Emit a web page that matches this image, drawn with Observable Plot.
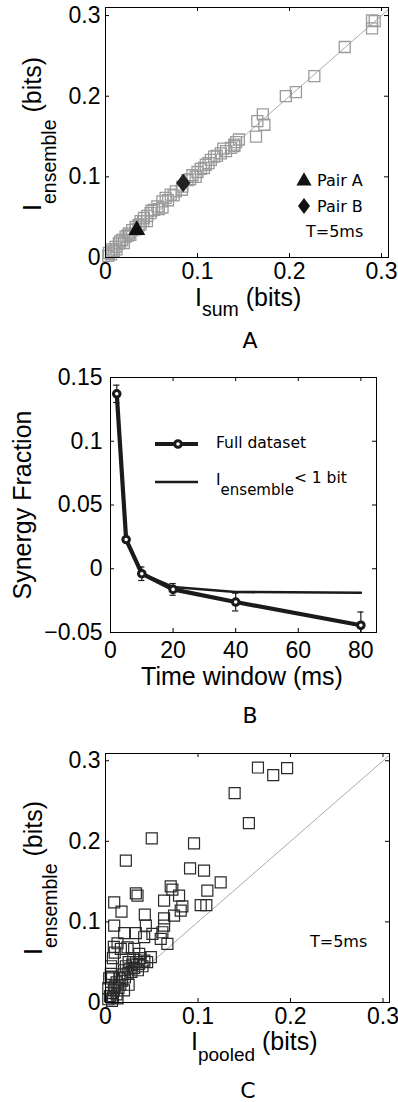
<!DOCTYPE html>
<html><head><meta charset="utf-8">
<script src="https://cdn.jsdelivr.net/npm/d3@7"></script>
<script src="https://cdn.jsdelivr.net/npm/@observablehq/plot@0.6"></script>
<style>
body{margin:0;background:#fff}
#chart{width:398px;height:1102px;overflow:hidden;background:#fff}
#chart svg{display:block}
</style>
</head><body><div id="chart"></div>
<script>
// ---------- Panel A : I_ensemble vs I_sum (T=5ms) ----------
const A_isum = [0.2897,0.2897,0.2926,0.260,0.227,0.207,0.196,0.171,0.165,0.1727,0.1636,0.145,0.140,0.1364,0.131,0.1254,0.118,0.1145,0.109,0.1036,0.100,0.0945,0.0891,0.0836,0.0764,0.0709,0.0654,0.0618,0.0564,0.0527,0.049,0.0454,0.0418,0.0382,0.0327,0.029,0.0254,0.0218,0.0182,0.0145,0.0109,0.0073,0.0036,0.128,0.112,0.098,0.062,0.068,0.050,0.045,0.036,0.027,0.020,0.012,0.006,0.003,0.016,0.024,0.038,0.058,0.074,0.083,0.092,0.107,0.121,0.142,0.140,0.041,0.033,0.009];
const A_iens = [0.294,0.284,0.293,0.261,0.225,0.205,0.200,0.1775,0.169,0.1646,0.150,0.1463,0.140,0.136,0.132,0.129,0.125,0.121,0.115,0.110,0.106,0.102,0.096,0.088,0.082,0.078,0.074,0.0696,0.0633,0.059,0.055,0.0517,0.049,0.045,0.038,0.034,0.030,0.026,0.0217,0.0175,0.0133,0.010,0.0058,0.135,0.117,0.100,0.062,0.071,0.058,0.045,0.040,0.028,0.018,0.010,0.004,0.002,0.020,0.027,0.041,0.060,0.077,0.084,0.097,0.111,0.126,0.143,0.138,0.045,0.035,0.008];
const pairA = {isum: 0.034, iens: 0.034};
const pairB = {isum: 0.0845, iens: 0.0925};

// ---------- Panel B : synergy fraction vs time window ----------
const B_T = [2, 5, 10, 20, 40, 80];
const B_full = [0.1372, 0.0229, -0.0039, -0.0162, -0.0261, -0.0443];
const B_err = [0.0068, 0.0020, 0.0053, 0.0046, 0.0070, 0.0104];
const B_small = [0.1372, 0.0229, -0.0039, -0.0143, -0.0182, -0.0188];

// ---------- Panel C : I_ensemble vs I_pooled (T=5ms) ----------
const C_ipooled = [0.1648,0.1813,0.1963,0.1396,0.155,0.0500,0.0957,0.0220,0.0914,0.1065,0.1245,0.1101,0.0705,0.0723,0.0328,0.0346,0.0633,0.0795,0.0831,0.0813,0.1029,0.109,0.0094,0.0173,0.0425,0.0633,0.0741,0.0094,0.0202,0.0328,0.0436,0.0633,0.0615,0.0507,0.0418,0.0597,0.0669,0.0130,0.0166,0.0238,0.031,0.0364,0.049,0.0058,
  0.003,0.005,0.006,0.008,0.009,0.010,0.012,0.012,0.014,0.015,0.016,0.018,0.018,0.020,0.021,0.022,0.024,0.025,0.026,0.028,0.029,0.030,0.031,0.033,0.035,0.036,0.038,0.040,0.042,0.045,0.004,0.006,0.008,0.010,0.003,0.013,0.007,0.020,0.025,0.009,0.007];
const C_iens = [0.2916,0.2821,0.2908,0.2598,0.2226,0.2036,0.1975,0.176,0.1665,0.1637,0.149,0.1388,0.1442,0.140,0.1355,0.1326,0.1264,0.1326,0.1194,0.114,0.1209,0.1209,0.1243,0.1128,0.109,0.1045,0.1078,0.0954,0.086,0.086,0.0954,0.0954,0.0872,0.0851,0.081,0.0789,0.0727,0.0735,0.0665,0.0685,0.0665,0.0603,0.0562,0.0356,
  0.004,0.008,0.012,0.006,0.015,0.020,0.010,0.025,0.018,0.030,0.022,0.035,0.027,0.040,0.031,0.045,0.036,0.050,0.042,0.038,0.047,0.055,0.043,0.050,0.040,0.048,0.055,0.045,0.052,0.050,0.030,0.045,0.055,0.062,0.018,0.005,0.002,0.015,0.022,0.069,0.032];

// ---------- tick values ----------
const ticksBits = [0, 0.1, 0.2, 0.3];
const ticksB_x = [0, 20, 40, 60, 80];
const ticksB_y = [-0.05, 0, 0.05, 0.1, 0.15];

// ---------- helpers ----------
const W = 398;
const TICK_FONT = 23;
const LABEL_FONT = 25;
const SANS = "Liberation Sans, Arial, Helvetica, sans-serif";
const LEG = "DejaVu Sans, Verdana, sans-serif";
const tickFmt = d => d === 0 ? "0" : (d < 0 ? "\u2212" + String(-d) : String(d));
const plotStyle = {fontFamily: SANS, fontSize: TICK_FONT + "px", color: "black", background: "white", overflow: "visible"};

// MATLAB-like diamond (wider than d3's)
const wideDiamond = {
  draw(ctx, size) {
    const ry = Math.sqrt(size / 1.5), rx = ry * 0.75;
    ctx.moveTo(0, -ry); ctx.lineTo(rx, 0); ctx.lineTo(0, ry); ctx.lineTo(-rx, 0); ctx.closePath();
  }
};

function innerTicks(xt, yt, fw, fh, len = 4) {
  return [
    Plot.tickX(xt, {x: d => d, insetTop: fh - len, stroke: "black"}),
    Plot.tickX(xt, {x: d => d, insetBottom: fh - len, stroke: "black"}),
    Plot.tickY(yt, {y: d => d, insetRight: fw - len, stroke: "black"}),
    Plot.tickY(yt, {y: d => d, insetLeft: fw - len, stroke: "black"})
  ];
}
function axes(xt, yt, padX, padY) {
  return [
    Plot.frame({stroke: "black", strokeWidth: 1}),
    Plot.axisX({ticks: xt, tickSize: 0, tickPadding: padX, tickFormat: tickFmt, label: null, fontSize: TICK_FONT}),
    Plot.axisY({ticks: yt, tickSize: 0, tickPadding: padY, tickFormat: tickFmt, label: null, fontSize: TICK_FONT})
  ];
}
function rich(svg, x, y, {rotate = false, anchor = "start", family = SANS, size = LABEL_FONT}, parts) {
  const t = d3.select(svg).append("text")
    .attr("transform", rotate ? `translate(${x},${y}) rotate(-90)` : `translate(${x},${y})`)
    .attr("text-anchor", anchor).attr("font-family", family).attr("font-size", size)
    .attr("fill", "black").style("white-space", "pre");
  for (const p of parts) {
    const s = t.append("tspan").text(p.t);
    if (p.size) s.attr("font-size", p.size);
    if (p.dy) s.attr("dy", p.dy);
    if (p.dx) s.attr("dx", p.dx);
  }
  return t;
}
const chart = document.getElementById("chart");

// ================= Panel A =================
{
  const h = 365, m = {t: 7, r: 10, b: 108, l: 105};
  const fw = W - m.l - m.r, fh = h - m.t - m.b;
  const xMax = 0.3076, yMax = 0.31;
  const idx = d3.range(A_isum.length);
  const diag = [0, Math.min(xMax, yMax)];
  const svg = Plot.plot({
    width: W, height: h, marginTop: m.t, marginRight: m.r, marginBottom: m.b, marginLeft: m.l,
    x: {domain: [0, xMax]}, y: {domain: [0, yMax]}, style: plotStyle,
    marks: [
      Plot.line(diag, {x: d => d, y: d => d, stroke: "#aaaaaa", strokeWidth: 1}),
      Plot.dot(idx, {x: i => A_isum[i], y: i => A_iens[i], symbol: "square", r: 6.2, fill: "none", stroke: "#9b9b9b", strokeWidth: 1.3}),
      Plot.dot([pairA], {x: "isum", y: "iens", symbol: "triangle", r: 6.3, fill: "#111", stroke: "none"}),
      Plot.dot([pairB], {x: "isum", y: "iens", symbol: wideDiamond, r: 6.5, fill: "#222", stroke: "none"}),
      ...innerTicks(ticksBits, ticksBits, fw, fh),
      ...axes(ticksBits, ticksBits, 5, 5)
    ]
  });
  chart.appendChild(svg);
  rich(svg, 195, 306, {}, [{t: "I"}, {t: "sum", size: 19.5, dy: 10}, {t: " (bits)", dy: -10}]);
  rich(svg, 41, 134, {rotate: true, anchor: "middle"}, [{t: "I"}, {t: "ensemble", size: 19.5, dy: 15}, {t: " (bits)", dy: -15}]);
  const s = d3.select(svg);
  s.append("path").attr("d", d3.symbol(d3.symbolTriangle, 100)()).attr("transform", "translate(304,181)").attr("fill", "#111");
  s.append("path").attr("d", d3.symbol(wideDiamond, 95)()).attr("transform", "translate(304,206)").attr("fill", "#111");
  rich(svg, 317, 186, {family: LEG, size: 16}, [{t: "Pair A"}]);
  rich(svg, 317, 212, {family: LEG, size: 16}, [{t: "Pair B"}]);
  rich(svg, 306, 237, {family: LEG, size: 16}, [{t: "T=5ms"}]);
  rich(svg, 250, 348, {family: LEG, size: 22, anchor: "middle"}, [{t: "A"}]);
}

// ================= Panel B =================
{
  const h = 365, m = {t: 12, r: 22, b: 98, l: 110};
  const fw = W - m.l - m.r, fh = h - m.t - m.b;
  const idx = d3.range(B_T.length);
  const ink = "#1b1b1b";
  const svg = Plot.plot({
    width: W, height: h, marginTop: m.t, marginRight: m.r, marginBottom: m.b, marginLeft: m.l,
    x: {domain: [0, 85]}, y: {domain: [-0.05, 0.15]}, style: plotStyle,
    marks: [
      Plot.line(idx, {x: i => B_T[i], y: i => B_small[i], stroke: ink, strokeWidth: 2.6}),
      Plot.line(idx, {x: i => B_T[i], y: i => B_full[i], stroke: ink, strokeWidth: 4.2}),
      Plot.ruleX(idx, {x: i => B_T[i], y1: i => B_full[i] - B_err[i], y2: i => B_full[i] + B_err[i], stroke: ink, strokeWidth: 1.2, clip: true}),
      Plot.ruleY(idx, {y: i => B_full[i] + B_err[i], x1: i => B_T[i] - 1, x2: i => B_T[i] + 1, stroke: ink, strokeWidth: 1.2, clip: true}),
      Plot.ruleY(idx, {y: i => B_full[i] - B_err[i], x1: i => B_T[i] - 1, x2: i => B_T[i] + 1, stroke: ink, strokeWidth: 1.2, clip: true}),
      Plot.dot(idx, {x: i => B_T[i], y: i => B_full[i], r: 3.3, fill: "white", stroke: ink, strokeWidth: 3}),
      ...innerTicks(ticksB_x, ticksB_y, fw, fh),
      ...axes(ticksB_x, ticksB_y, 9, 8)
    ]
  });
  chart.appendChild(svg);
  const s = d3.select(svg);
  rich(svg, 31, 140, {rotate: true, anchor: "middle"}, [{t: "Synergy Fraction"}]);
  rich(svg, 242, 320, {anchor: "middle"}, [{t: "Time window (ms)"}]);
  s.append("line").attr("x1", 155).attr("x2", 198).attr("y1", 79).attr("y2", 79).attr("stroke", ink).attr("stroke-width", 4.2);
  s.append("circle").attr("cx", 178).attr("cy", 79).attr("r", 3.3).attr("fill", "white").attr("stroke", ink).attr("stroke-width", 3);
  s.append("line").attr("x1", 155).attr("x2", 198).attr("y1", 117).attr("y2", 117).attr("stroke", ink).attr("stroke-width", 2.6);
  rich(svg, 216, 83, {family: LEG, size: 15.5}, [{t: "Full dataset"}]);
  rich(svg, 216, 120, {family: LEG, size: 15.5}, [{t: "I"}, {t: "ensemble", size: 15, dy: 10}, {t: "< 1 bit", dy: -12}]);
  rich(svg, 250, 358, {family: LEG, size: 22, anchor: "middle"}, [{t: "B"}]);
}

// ================= Panel C =================
{
  const h = 372, m = {t: 23, r: 9, b: 100, l: 105};
  const fw = W - m.l - m.r, fh = h - m.t - m.b;
  const xMax = 0.307, yMax = 0.309;
  const idx = d3.range(C_ipooled.length);
  const diag = [0, Math.min(xMax, yMax)];
  const svg = Plot.plot({
    width: W, height: h, marginTop: m.t, marginRight: m.r, marginBottom: m.b, marginLeft: m.l,
    x: {domain: [0, xMax]}, y: {domain: [0, yMax]}, style: plotStyle,
    marks: [
      Plot.line(diag, {x: d => d, y: d => d, stroke: "#aaaaaa", strokeWidth: 1}),
      Plot.dot(idx, {x: i => C_ipooled[i], y: i => C_iens[i], symbol: "square", r: 6.2, fill: "none", stroke: "#2a2a2a", strokeWidth: 1.2}),
      ...innerTicks(ticksBits, ticksBits, fw, fh),
      ...axes(ticksBits, ticksBits, 5, 5)
    ]
  });
  chart.appendChild(svg);
  rich(svg, 191, 320, {}, [{t: "I"}, {t: "pooled", size: 19, dy: 11}, {t: " (bits)", dy: -11}]);
  rich(svg, 42, 148, {rotate: true, anchor: "middle"}, [{t: "I"}, {t: "ensemble", size: 19.5, dy: 15}, {t: " (bits)", dy: -15}]);
  rich(svg, 310, 217, {family: LEG, size: 16}, [{t: "T=5ms"}]);
  rich(svg, 248, 368, {family: LEG, size: 22, anchor: "middle"}, [{t: "C"}]);
}
</script>
</body></html>
